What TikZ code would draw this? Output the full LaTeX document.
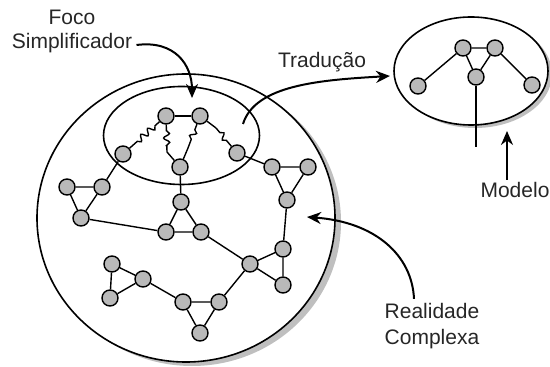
\documentclass[tikz,border=0pt]{standalone}
\usepackage{fontspec}
\setmainfont{Liberation Sans}
\usetikzlibrary{arrows.meta,decorations.pathmorphing}
\begin{document}
\begin{tikzpicture}[x=0.5pt,y=-0.5pt,
  dot/.style={circle,draw,line width=0.7pt,fill=gray!55,minimum size=8pt,inner sep=0pt},
  edge/.style={line width=0.7pt},
  wavy/.style={line width=0.7pt,decorate,decoration={snake,amplitude=1.5pt,segment length=4.5pt,pre length=3pt,post length=3pt}},
  ring/.style={line width=0.8pt},
  shadowfill/.style={fill=gray!50},
  arr/.style={line width=1pt,-{Stealth[length=7pt,width=6pt]}},
  lbl/.style={font=\fontsize{10.5}{13}\selectfont,text=black!85,inner sep=0pt}]
\useasboundingbox (0,0) rectangle (550,367);
% big ellipse (reality) with shadow
\fill[shadowfill] (192,222) ellipse [x radius=74.5pt,y radius=72pt];
\draw[ring,fill=white] (186,218) ellipse [x radius=74.5pt,y radius=72pt];
% focus ellipse
\draw[ring] (181.5,135.5) ellipse [x radius=39pt,y radius=24.5pt];
% model ellipse with shadow
\fill[shadowfill] (475,74) ellipse [x radius=38.5pt,y radius=27pt];
\draw[ring,fill=white] (471,71) ellipse [x radius=38.5pt,y radius=27pt];

% nodes of the complex reality
\node[dot] (A) at (166,116) {};
\node[dot] (B) at (200,116) {};
\node[dot] (C) at (123,154) {};
\node[dot] (D) at (180,167) {};
\node[dot] (E) at (237,153) {};
\node[dot] (F) at (272,167) {};
\node[dot] (G) at (308,167) {};
\node[dot] (H) at (287,200) {};
\node[dot] (I) at (102,187) {};
\node[dot] (J) at (67,187) {};
\node[dot] (K) at (81,218) {};
\node[dot] (L) at (181,202) {};
\node[dot] (M) at (166,232) {};
\node[dot] (N) at (201,232) {};
\node[dot] (O) at (283,249) {};
\node[dot] (P) at (250,264) {};
\node[dot] (Q) at (283,285) {};
\node[dot] (R) at (112,264) {};
\node[dot] (S) at (143,279) {};
\node[dot] (T) at (110,298) {};
\node[dot] (U) at (183,302) {};
\node[dot] (V) at (219,302) {};
\node[dot] (W) at (200,333) {};
\coordinate (ad) at (167,152);
\coordinate (bd) at (188,148);
\coordinate (be) at (216,128);

% edges
\draw[edge] (A) -- (B);
\draw[wavy] (A) -- (C);
\draw[wavy] (A) -- (ad);
\draw[edge] (ad) -- (D);
\draw[wavy] (B) -- (bd);
\draw[edge] (bd) -- (D);
\draw[edge] (B) -- (be);
\draw[wavy] (be) -- (E);
\draw[edge] (C) -- (I);
\draw[wavy,decoration={snake,amplitude=1.2pt,segment length=6pt}] (D) -- (L);
\draw[edge] (E) -- (F);
\draw[edge] (F) -- (G) -- (H) -- (F);
\draw[edge] (H) -- (O);
\draw[edge] (O) -- (P) -- (Q) -- (O);
\draw[edge] (P) -- (N);
\draw[edge] (L) -- (M) -- (N) -- (L);
\draw[edge] (K) -- (M);
\draw[edge] (I) -- (J) -- (K) -- (I);
\draw[edge] (R) -- (S) -- (T) -- (R);
\draw[edge] (S) -- (U);
\draw[edge] (U) -- (V) -- (W) -- (U);
\draw[edge] (V) -- (P);

% model nodes
\node[dot] (m1) at (463,48) {};
\node[dot] (m2) at (495,48) {};
\node[dot] (m3) at (476,77) {};
\node[dot] (m4) at (418,86) {};
\node[dot] (m5) at (532,85) {};
\coordinate (m3end) at (476,147);
\draw[edge] (m1) -- (m2) -- (m3) -- (m1);
\draw[edge] (m1) -- (m4);
\draw[edge] (m2) -- (m5);
\draw[edge] (m3) -- (m3end);

% labels
\node[lbl] (foco1) at (72,17) {Foco};
\node[lbl] (foco2) at (72,43) {Simplificador};
\node[lbl] (trad) at (322,62) {Tradução};
\node[lbl] (modelo) at (515,190) {Modelo};
\node[lbl,align=center] (real) at (432,326) {Realidade\\Complexa};

% arrows
\coordinate (focotip) at (192,98);
\draw[arr] ([xshift=2pt,yshift=-1pt]foco2.east) .. controls (175,40) and (192,65) .. (focotip);
\coordinate (tradstart) at (243,124);
\coordinate (tradtip) at (390,76);
\draw[arr] (tradstart) .. controls (255,85) and (320,80) .. (tradtip);
\coordinate (modelofoot) at (507,180);
\coordinate (modelotip) at (507,131);
\draw[arr] (modelofoot) -- (modelotip);
\coordinate (realtip) at (307,217);
\draw[arr] ([yshift=2pt]real.north -| 414,0) .. controls (412,255) and (375,222) .. (realtip);
\end{tikzpicture}
\end{document}
